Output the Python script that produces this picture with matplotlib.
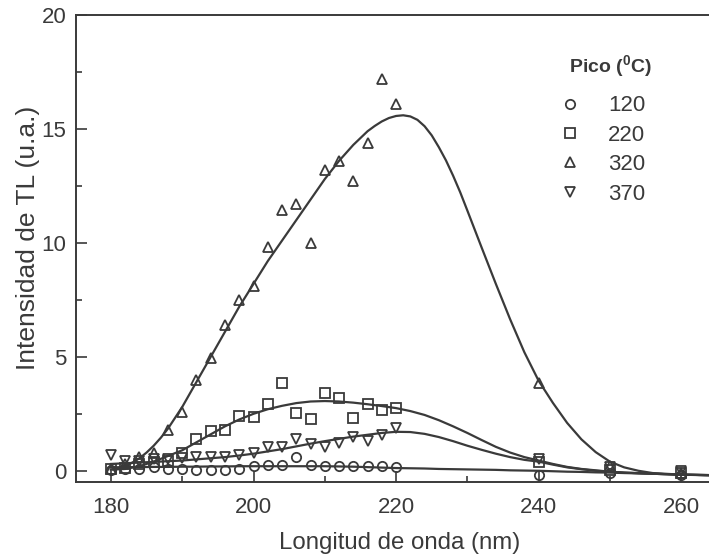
import matplotlib

matplotlib.use("Agg")
import matplotlib.pyplot as plt
from matplotlib.ticker import MultipleLocator

plt.rcParams["font.family"] = ["Liberation Sans", "DejaVu Sans"]
plt.rcParams["mathtext.fontset"] = "custom"
plt.rcParams["mathtext.rm"] = "Liberation Sans"
plt.rcParams["mathtext.bf"] = "Liberation Sans:bold"

INK = "#3a3a3a"

# measured points (wavelength in nm, TL intensity in a.u.)
wl_points = [180, 182, 184, 186, 188, 190, 192, 194, 196, 198, 200,
             202, 204, 206, 208, 210, 212, 214, 216, 218, 220, 240, 250, 260]
pico_120 = [0.05, 0.1, 0.1, 0.15, 0.1, 0.06, 0.05, 0.05, 0.05, 0.1, 0.2,
            0.25, 0.25, 0.59, 0.25, 0.22, 0.2, 0.2, 0.22, 0.22, 0.18, -0.17, -0.1, -0.2]
pico_220 = [0.07, 0.12, 0.3, 0.4, 0.44, 0.8, 1.4, 1.76, 1.8, 2.4, 2.34,
            2.93, 3.84, 2.52, 2.26, 3.42, 3.2, 2.3, 2.91, 2.66, 2.74, 0.4, 0.05, -0.1]
pico_320 = [0.1, 0.3, 0.6, 0.8, 1.8, 2.6, 4.0, 4.95, 6.4, 7.5, 8.1,
            9.8, 11.45, 11.7, 10.0, 13.2, 13.6, 12.7, 14.4, 17.2, 16.1, 3.84, 0.2, -0.1]
pico_370 = [0.69, 0.45, 0.45, 0.5, 0.5, 0.57, 0.61, 0.61, 0.61, 0.69, 0.79,
            1.03, 1.05, 1.38, 1.17, 1.05, 1.23, 1.49, 1.32, 1.57, 1.86, 0.5, 0.15, 0.0]

# fitted curves
wl_fit = [180, 182, 184, 186, 188, 190, 192, 194, 196, 198, 200, 202, 204,
          206, 208, 210, 212, 214, 216, 218, 220, 222, 224, 226, 228, 230,
          232, 234, 236, 238, 240, 242, 244, 246, 248, 250, 252, 256, 260, 264]
fit_120 = [0.15, 0.16, 0.16, 0.17, 0.17, 0.18, 0.18, 0.19, 0.19, 0.2, 0.2,
           0.2, 0.2, 0.2, 0.2, 0.2, 0.19, 0.18, 0.16, 0.14, 0.12, 0.11, 0.1,
           0.08, 0.07, 0.06, 0.05, 0.04, 0.02, 0.01, 0.0, -0.02, -0.04, -0.05,
           -0.07, -0.08, -0.1, -0.13, -0.17, -0.2]
fit_220 = [0.05, 0.08, 0.2, 0.4, 0.65, 0.9, 1.25, 1.6, 1.95, 2.25, 2.5,
           2.7, 2.85, 2.97, 3.04, 3.06, 3.04, 2.99, 2.92, 2.84, 2.75, 2.62,
           2.45, 2.22, 1.95, 1.66, 1.35, 1.05, 0.8, 0.6, 0.45, 0.3, 0.17,
           0.08, 0.02, -0.04, -0.08, -0.13, -0.17, -0.19]
fit_370 = [0.3, 0.33, 0.36, 0.39, 0.42, 0.45, 0.5, 0.55, 0.6, 0.67, 0.75,
           0.85, 0.95, 1.07, 1.19, 1.3, 1.4, 1.5, 1.58, 1.66, 1.71, 1.7,
           1.62, 1.48, 1.3, 1.1, 0.92, 0.75, 0.6, 0.48, 0.4, 0.27, 0.15,
           0.07, 0.0, -0.04, -0.08, -0.13, -0.17, -0.19]

# the 320 curve is read more finely around its peak
wl_fit_320 = [180, 182, 183, 184, 185, 186, 187, 188, 190, 192, 194, 196,
              198, 200, 202, 204, 206, 208, 210, 212, 214, 216, 217, 218,
              219, 220, 221, 222, 223, 224, 225, 226, 227, 228, 229, 230,
              232, 234, 236, 238, 240, 242, 244, 246, 248, 250, 252, 254,
              256, 260, 264]
fit_320 = [0.05, 0.2, 0.36, 0.55, 0.8, 1.1, 1.45, 1.85, 2.8, 3.9, 5.0, 6.1,
           7.2, 8.2, 9.2, 10.1, 11.0, 11.9, 12.8, 13.6, 14.3, 14.9, 15.13, 15.33,
           15.48, 15.57, 15.6, 15.55, 15.4, 15.12, 14.72, 14.2, 13.62, 12.95, 12.22, 11.42,
           9.8, 8.2, 6.65, 5.2, 3.95, 2.98, 2.1, 1.38, 0.82, 0.4, 0.15, 0.0,
           -0.1, -0.17, -0.19]

series = [
    ("120", wl_fit, pico_120, fit_120, "o", 6.7),
    ("220", wl_fit, pico_220, fit_220, "s", 7.4),
    ("320", wl_fit_320, pico_320, fit_320, "^", 7.8),
    ("370", wl_fit, pico_370, fit_370, "v", 7.8),
]

fig = plt.figure(figsize=(7.09, 5.56), dpi=100)
ax = fig.add_axes([0.1072, 0.1336, 0.8928, 0.8394])

for label, fit_x, pts, fit, marker, size in series:
    ax.plot(fit_x, fit, color=INK, lw=1.6, zorder=2)
    ax.plot(wl_points, pts, linestyle="none", marker=marker, markersize=size,
            markerfacecolor="none", markeredgecolor=INK, markeredgewidth=1.3,
            label=label, zorder=3)

ax.set_xlim(175.1, 263.9)
ax.set_ylim(-0.48, 20)
ax.xaxis.set_major_locator(MultipleLocator(20))
ax.xaxis.set_minor_locator(MultipleLocator(10))
ax.yaxis.set_major_locator(MultipleLocator(5))
ax.yaxis.set_minor_locator(MultipleLocator(2.5))
ax.tick_params(which="both", direction="in", colors=INK, width=1.2,
               labelsize=16, labelcolor=INK)
ax.tick_params(which="major", length=8)
ax.tick_params(which="minor", length=4)
ax.tick_params(axis="x", pad=11)
ax.tick_params(axis="y", pad=7)

ax.spines["right"].set_visible(False)
for side in ("left", "top", "bottom"):
    ax.spines[side].set_color(INK)
    ax.spines[side].set_linewidth(1.4)

ax.set_xlabel("Longitud de onda (nm)", fontsize=17.3, color=INK, labelpad=10)
ax.set_ylabel("Intensidad de TL (u.a.)", fontsize=19, color=INK, labelpad=1)
ax.xaxis.label.set_x(0.512)
ax.yaxis.label.set_y(0.522)

leg = ax.legend(loc="upper left", bbox_to_anchor=(0.749, 0.847),
                frameon=False, fontsize=16, handletextpad=1.2,
                labelspacing=0.38, borderaxespad=0, handlelength=1.0)
for text in leg.get_texts():
    text.set_color(INK)
ax.text(0.845, 0.889, r"Pico ($^{\mathbf{0}}$C)", transform=ax.transAxes,
        ha="center", va="center", fontsize=14, fontweight="bold", color=INK)

fig.savefig("out.png", dpi=100)
